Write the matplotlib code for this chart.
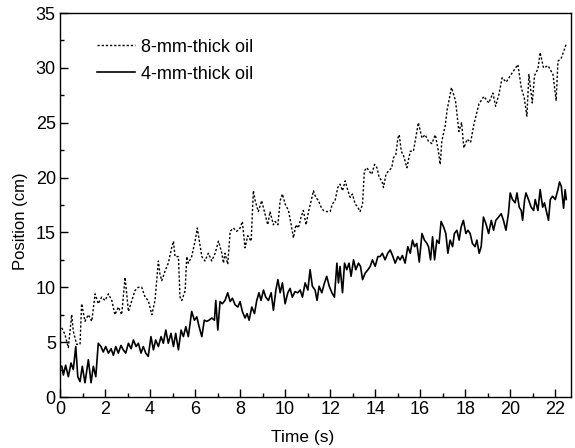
import matplotlib
matplotlib.use("Agg")
import matplotlib.pyplot as plt
from matplotlib.ticker import MultipleLocator

plt.rcParams['font.family'] = ['Liberation Sans', 'DejaVu Sans']

# 8-mm-thick oil (dotted)
t8 = [0.08, 0.22, 0.37, 0.52, 0.59, 0.74, 0.89, 0.96, 1.11, 1.26, 1.41, 1.56, 1.70, 1.85, 2.00,
      2.15, 2.30, 2.44, 2.59, 2.74, 2.89, 3.04, 3.19, 3.33, 3.48, 3.63, 3.78, 3.92, 4.08, 4.22,
      4.37, 4.44, 4.52, 4.67, 4.81, 4.96, 5.04, 5.11, 5.26, 5.33, 5.41, 5.56, 5.63, 5.70, 5.85,
      6.00, 6.10, 6.30, 6.44, 6.59, 6.74, 6.89, 7.04, 7.19, 7.26, 7.33, 7.45, 7.56, 7.70, 7.85,
      8.00, 8.10, 8.22, 8.34, 8.49, 8.59, 8.67, 8.81, 8.96, 9.08, 9.23, 9.33, 9.48, 9.56, 9.68,
      9.78, 9.88, 10.00, 10.15, 10.27, 10.37, 10.48, 10.59, 10.71, 10.81, 10.93, 11.04, 11.16,
      11.26, 11.36, 11.48, 11.60, 11.70, 11.85, 12.00, 12.10, 12.22, 12.34, 12.44, 12.55, 12.67,
      12.79, 12.89, 12.99, 13.11, 13.23, 13.33, 13.44, 13.52, 13.63, 13.73, 13.85, 13.97, 14.08,
      14.18, 14.30, 14.37, 14.48, 14.59, 14.74, 14.81, 14.92, 15.01, 15.07, 15.16, 15.26, 15.41,
      15.56, 15.70, 15.85, 15.92, 16.08, 16.22, 16.37, 16.52, 16.67, 16.81, 16.89, 16.96, 17.11,
      17.20, 17.39, 17.57, 17.72, 17.84, 17.94, 18.09, 18.24, 18.39, 18.61, 18.83, 19.05, 19.23,
      19.35, 19.50, 19.64, 19.82, 20.04, 20.34, 20.49, 20.62, 20.74, 20.83, 20.98, 21.08, 21.23,
      21.33, 21.48, 21.68, 21.90, 22.04, 22.12, 22.27, 22.41, 22.49]
pos8 = [6.3, 5.7, 4.5, 7.5, 6.0, 4.8, 4.8, 8.5, 6.9, 7.5, 6.9, 9.4, 8.5, 9.1, 8.8,
        9.4, 8.8, 7.5, 8.2, 7.5, 10.9, 7.8, 8.8, 9.7, 10.0, 10.0, 9.1, 8.8, 7.5, 8.8,
        12.4, 11.2, 10.6, 11.5, 12.2, 13.6, 14.2, 12.8, 12.8, 9.1, 8.8, 9.7, 12.8, 12.2, 12.8,
        14.2, 15.4, 12.8, 12.4, 13.1, 12.4, 13.1, 14.2, 13.1, 12.2, 13.1, 12.1, 15.1, 15.4, 15.1,
        15.4, 16.0, 13.6, 14.7, 14.2, 18.8, 17.9, 16.9, 17.9, 16.9, 15.7, 16.9, 15.7, 16.0, 15.7,
        17.9, 18.5, 17.6, 17.0, 15.7, 14.5, 15.7, 15.4, 16.4, 17.0, 15.7, 16.9, 17.9,
        18.8, 18.2, 17.9, 17.3, 17.0, 16.9, 16.9, 17.6, 17.9, 19.1, 19.4, 18.8, 19.7,
        18.8, 18.2, 18.5, 17.6, 17.3, 16.9, 17.6, 20.6, 20.9, 20.6, 20.3, 21.2, 20.9,
        20.0, 19.7, 19.1, 20.3, 20.6, 20.9, 21.8, 22.1, 23.6, 23.9, 22.4, 22.0, 20.9,
        22.4, 22.4, 24.2, 25.0, 23.6, 23.9, 23.3, 23.1, 23.9, 22.4, 21.2, 23.3, 24.7,
        26.2, 28.2, 27.0, 24.2, 25.0, 22.7, 23.5, 23.2, 24.9, 26.7, 27.4, 26.8, 27.7,
        26.5, 27.6, 29.1, 28.7, 29.4, 30.3, 28.2, 27.3, 25.6, 29.4, 26.8, 29.3, 29.9,
        31.4, 30.0, 30.2, 29.4, 27.0, 30.6, 30.9, 31.7, 32.2]

# 4-mm-thick oil (solid)
t4 = [0.08, 0.15, 0.25, 0.37, 0.49, 0.59, 0.70, 0.79, 0.89, 0.99, 1.11, 1.26, 1.38, 1.48, 1.59,
      1.70, 1.82, 1.92, 2.03, 2.15, 2.27, 2.37, 2.48, 2.59, 2.71, 2.81, 2.92, 3.04, 3.16, 3.26,
      3.38, 3.48, 3.60, 3.70, 3.81, 3.92, 4.04, 4.15, 4.25, 4.37, 4.49, 4.59, 4.70, 4.81, 4.93,
      5.04, 5.14, 5.26, 5.38, 5.48, 5.59, 5.70, 5.85, 5.97, 6.08, 6.18, 6.30, 6.41, 6.52, 6.62,
      6.74, 6.86, 6.92, 7.01, 7.11, 7.21, 7.33, 7.45, 7.56, 7.66, 7.78, 7.90, 8.00, 8.10, 8.22,
      8.31, 8.40, 8.52, 8.64, 8.74, 8.84, 8.93, 9.04, 9.14, 9.26, 9.38, 9.48, 9.59, 9.68, 9.78,
      9.88, 10.00, 10.12, 10.22, 10.32, 10.44, 10.56, 10.67, 10.77, 10.89, 11.01, 11.11, 11.21,
      11.33, 11.42, 11.51, 11.63, 11.75, 11.85, 11.96, 12.08, 12.19, 12.30, 12.37, 12.44, 12.55,
      12.64, 12.74, 12.84, 12.93, 13.04, 13.14, 13.26, 13.35, 13.44, 13.56, 13.68, 13.78, 13.88,
      14.00, 14.12, 14.22, 14.32, 14.44, 14.56, 14.67, 14.77, 14.89, 15.01, 15.11, 15.21, 15.33,
      15.45, 15.56, 15.66, 15.75, 15.85, 15.96, 16.08, 16.19, 16.30, 16.37, 16.46, 16.55, 16.64,
      16.74, 16.84, 16.93, 17.04, 17.14, 17.23, 17.33, 17.44, 17.52, 17.63, 17.73, 17.82, 17.92,
      18.03, 18.12, 18.22, 18.32, 18.44, 18.52, 18.62, 18.71, 18.81, 18.92, 19.04, 19.16, 19.26,
      19.36, 19.48, 19.60, 19.70, 19.81, 19.92, 20.00, 20.10, 20.22, 20.30, 20.40, 20.49, 20.55,
      20.64, 20.70, 20.81, 20.93, 21.04, 21.11, 21.23, 21.33, 21.44, 21.52, 21.63, 21.70, 21.78,
      21.88, 22.00, 22.12, 22.19, 22.27, 22.37, 22.44, 22.49]
pos4 = [2.8, 2.0, 2.9, 1.85, 3.1, 2.5, 4.6, 1.85, 1.4, 2.8, 1.3, 3.4, 1.3, 2.8, 1.85,
        4.9, 4.6, 4.1, 4.6, 4.0, 4.4, 3.8, 4.6, 4.0, 4.7, 4.3, 4.0, 4.9, 4.4, 5.2,
        4.6, 4.9, 4.0, 4.6, 4.0, 3.7, 5.5, 4.3, 5.2, 4.6, 5.5, 4.9, 6.1, 4.9, 5.8,
        4.6, 5.8, 4.3, 6.1, 5.5, 6.4, 5.5, 7.8, 7.0, 7.3, 6.4, 5.5, 7.0, 6.9, 7.0,
        7.2, 7.0, 8.8, 6.1, 8.7, 8.5, 8.8, 9.5, 8.7, 9.0, 8.4, 8.2, 8.7, 7.8, 7.2,
        7.6, 7.0, 8.2, 7.6, 8.8, 9.5, 8.8, 9.75, 9.1, 8.8, 9.5, 7.9, 9.75, 10.7, 9.5,
        10.4, 8.5, 9.5, 9.9, 9.1, 9.6, 9.5, 9.75, 9.1, 10.4, 9.75, 11.6, 10.1,
        9.75, 8.8, 10.1, 9.5, 10.4, 11.0, 10.1, 9.5, 9.1, 12.2, 10.4, 11.9, 9.5,
        12.2, 11.6, 12.2, 11.0, 12.5, 11.6, 12.2, 11.9, 10.7, 11.3, 11.6, 11.9, 12.5,
        11.9, 12.8, 12.8, 13.1, 12.5, 13.1, 13.4, 12.9, 12.2, 12.8, 12.5, 12.9, 12.2,
        13.7, 13.1, 14.3, 13.7, 14.0, 12.3, 14.9, 14.3, 14.0, 13.7, 12.5, 14.6, 12.5,
        14.3, 14.0, 16.0, 15.5, 14.9, 13.1, 14.3, 13.7, 14.9, 15.2, 14.3, 15.5, 16.1,
        14.9, 15.2, 14.9, 14.0, 13.7, 14.3, 13.1, 13.7, 16.4, 15.8, 14.9, 16.1, 15.2,
        16.1, 16.4, 16.7, 16.1, 15.2, 16.7, 18.6, 18.0, 17.7, 18.6, 17.3, 17.0, 16.1,
        18.0, 18.6, 18.0, 17.3, 17.0, 18.0, 17.0, 18.9, 17.3, 17.7, 16.7, 16.1, 18.0,
        18.3, 18.0, 18.9, 19.6, 19.2, 17.2, 18.9, 18.0]

x_ticks = list(range(0, 23, 2))
y_ticks = list(range(0, 36, 5))

fig = plt.figure(figsize=(5.75, 4.48), dpi=100)
ax = fig.add_axes([60 / 575, 51 / 448, 511 / 575, 384 / 448])

ax.plot(t8, pos8, color='black', lw=1.0, linestyle=(0, (1.6, 1.4)), label='8-mm-thick oil')
ax.plot(t4, pos4, color='black', lw=1.2, linestyle='-', label='4-mm-thick oil')

ax.set_xlim(0, 22.7)
ax.set_ylim(0, 35)
ax.set_xticks(x_ticks)
ax.set_yticks(y_ticks)
ax.xaxis.set_minor_locator(MultipleLocator(1))
ax.yaxis.set_minor_locator(MultipleLocator(2.5))
ax.tick_params(which='both', direction='in', top=False, right=False, labelsize=13, width=1.0)
ax.tick_params(which='major', length=6, pad=3)
ax.tick_params(which='minor', length=3)
for s in ax.spines.values():
    s.set_linewidth(1.0)

ax.set_xlabel('Time (s)', fontsize=12.5)
ax.set_ylabel('Position (cm)', fontsize=12)
ax.xaxis.set_label_coords(0.474, -0.085)
ax.yaxis.set_label_coords(-0.062, 0.458)

ax.legend(loc='upper left', bbox_to_anchor=(0.072, 0.933), frameon=False, fontsize=13,
          handlelength=2.1, handletextpad=0.35, labelspacing=0.55, borderaxespad=0, borderpad=0)

fig.savefig('out.png', dpi=100)
